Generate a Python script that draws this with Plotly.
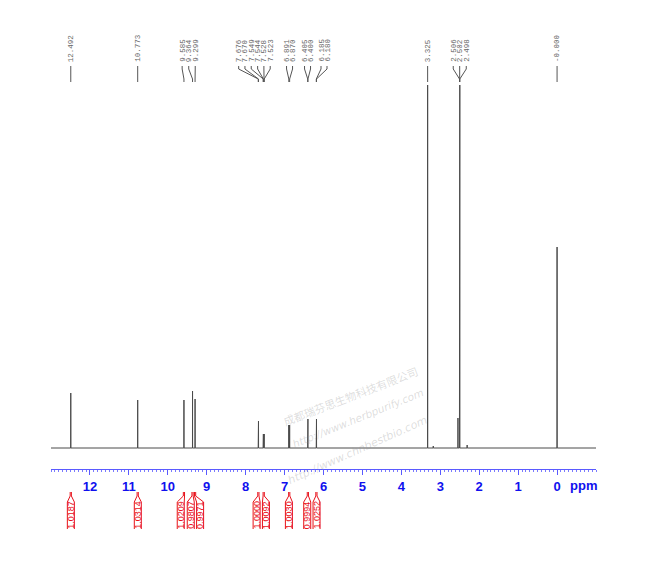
import plotly.graph_objects as go

# ---------------- data ----------------
peak_ppm = [12.492, 10.773, 9.585, 9.364, 9.299,
            7.676, 7.670, 7.549, 7.544, 7.528, 7.523,
            6.891, 6.870, 6.405, 6.400, 6.185, 6.180,
            3.325, 2.506, 2.502, 2.498, 0.000]
peak_height = [55, 48, 48, 57, 49,
               27, 27, 14, 14, 14, 14,
               23, 23, 29, 29, 29, 29,
               440, 440, 440, 440, 201]
peak_labels = ["12.492", "10.773", "9.585", "9.364", "9.299",
               "7.676", "7.670", "7.549", "7.544", "7.528", "7.523",
               "6.891", "6.870", "6.405", "6.400", "6.185", "6.180",
               "3.325", "2.506", "2.502", "2.498", "-0.000"]
# small unlabelled signals (satellites / impurities)
minor_ppm = [3.18, 2.546, 2.31]
minor_height = [2, 30, 3]

integral_values = ["1.0187", "1.0314", "1.0209", "0.9807", "0.9971",
                   "1.0000", "1.0092", "1.0030", "0.9994", "1.0252"]
integral_center = [12.492, 10.773, 9.585, 9.364, 9.299,
                   7.673, 7.536, 6.880, 6.402, 6.182]

x_tick_vals = list(range(0, 13))
x_tick_text = [str(v) for v in x_tick_vals]

# ---------------- layout constants ----------------
W, H = 650, 580
OFF = 8  # page body margin of the browser
# plot area in page pixels
L, R, T, B = 51, 596, 85, 469
X_MAX, X_MIN = 13.0, -1.0
Y_MIN, Y_MAX = -21, 363

# where the peak labels are placed (ppm positions of label anchors)
label_pos = [12.492, 10.773, 9.631, 9.462, 9.295,
             8.179, 8.018, 7.856, 7.692, 7.531, 7.369,
             6.949, 6.795, 6.487, 6.333, 6.064, 5.910,
             3.325, 2.667, 2.502, 2.333, 0.000]
# where the integral tabs are placed
integral_tab_pos = [12.49, 10.77, 9.667, 9.41, 9.17,
                    7.718, 7.479, 6.889, 6.418, 6.179]


def px_x(ppm):
    return (X_MAX - ppm) / (X_MAX - X_MIN)


def py(pix_y):
    return (B - pix_y) / (B - T)


def pxp(pix_x):
    return (pix_x - L) / (R - L)


PPM_PER_PX = (X_MAX - X_MIN) / (R - L)

# ---------------- spectrum trace ----------------
pk = sorted(zip(peak_ppm + minor_ppm, peak_height + minor_height), key=lambda t: -t[0])
w = 0.002
xs, ys = [X_MAX], [0]
for p, h in pk:
    xs += [p + w, p, p - w]
    ys += [0, h, 0]
xs.append(X_MIN)
ys.append(0)

fig = go.Figure()
fig.add_trace(go.Scatter(x=xs, y=ys, mode="lines",
                         line=dict(color="#4a4a4a", width=1),
                         hoverinfo="skip", showlegend=False))

shapes = []
annotations = []

# ---------------- watermark ----------------
wm_color = "rgba(150,150,150,0.32)"
for txt, cx, cy, ang, size, fam in [
    ("成都瑞芬思生物科技有限公司", 350, 396, -21, 11, "Noto Sans CJK SC"),
    ("<i>http://www.herbpurify.com</i>", 358, 418, -22, 10.5, "DejaVu Sans"),
    ("<i>http://www.chnbestbio.com</i>", 357, 450, -24, 11, "DejaVu Sans"),
]:
    annotations.append(dict(text=txt, x=pxp(cx), y=py(cy), xref="paper", yref="paper",
                            xanchor="center", yanchor="middle", showarrow=False, textangle=ang,
                            font=dict(size=size, color=wm_color, family=fam)))

# ---------------- peak labels with leader lines ----------------
lab_color = "#666666"
for p, lp, txt in zip(peak_ppm, label_pos, peak_labels):
    annotations.append(dict(text=txt, x=px_x(lp), y=py(64), xref="paper", yref="paper",
                            xanchor="center", yanchor="bottom", showarrow=False, textangle=-90,
                            font=dict(size=7.5, color=lab_color, family="Liberation Mono")))
    path = (f"M {px_x(lp)} {py(66)} L {px_x(lp)} {py(69)} "
            f"L {px_x(p)} {py(79)} L {px_x(p)} {py(82)}")
    shapes.append(dict(type="path", path=path, xref="paper", yref="paper",
                       line=dict(color="#555555", width=1)))

# ---------------- integral tabs ----------------
red = "#e8101a"
half = 3.5 * PPM_PER_PX
for c, tp, val in zip(integral_center, integral_tab_pos, integral_values):
    a, b = px_x(tp + half), px_x(tp - half)
    n1, n2 = px_x(c + 0.6 * PPM_PER_PX), px_x(c - 0.6 * PPM_PER_PX)
    path = (f"M {a} {py(529)} L {a} {py(502)} L {n1} {py(496)} L {n1} {py(492)} "
            f"M {b} {py(529)} L {b} {py(502)} L {n2} {py(496)} L {n2} {py(492)}")
    shapes.append(dict(type="path", path=path, xref="paper", yref="paper",
                       line=dict(color=red, width=1)))
    annotations.append(dict(text=val, x=px_x(tp), y=py(515), xref="paper", yref="paper",
                            xanchor="center", yanchor="middle", showarrow=False, textangle=-90,
                            font=dict(size=9, color=red, family="Liberation Sans")))

# ppm unit label
blue = "#1010ee"
annotations.append(dict(text="<b>ppm</b>", x=pxp(583), y=py(485), xref="paper", yref="paper",
                        xanchor="center", yanchor="middle", showarrow=False,
                        font=dict(size=13, color=blue, family="Liberation Sans")))

fig.update_layout(
    width=W, height=H,
    margin=dict(l=L - OFF, r=W - R + OFF, t=T - OFF, b=H - B + OFF, pad=0),
    paper_bgcolor="white", plot_bgcolor="white",
    showlegend=False,
    xaxis=dict(range=[X_MAX, X_MIN], showgrid=False, zeroline=False,
               showline=True, linecolor="#5a5aff", linewidth=1,
               ticks="outside", ticklen=5, tickcolor="#5a5aff", tickwidth=1,
               tickvals=x_tick_vals, ticktext=x_tick_text,
               tickfont=dict(size=13, color=blue, family="Liberation Sans", weight="bold"),
               minor=dict(dtick=0.1, tick0=0, ticks="outside", ticklen=2,
                          tickcolor="#7a7aff", tickwidth=1, showgrid=False)),
    yaxis=dict(range=[Y_MIN, Y_MAX], visible=False, showgrid=False, zeroline=False),
    shapes=shapes, annotations=annotations,
)

fig.write_html("out.html")
